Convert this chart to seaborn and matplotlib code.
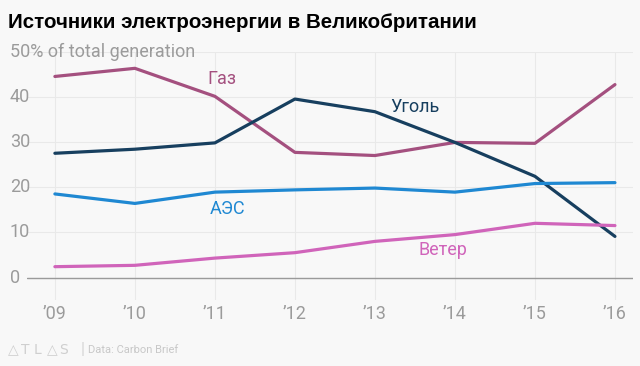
import pandas as pd
import seaborn as sns
import matplotlib.pyplot as plt

# Доли источников в выработке электроэнергии, %
years = [2009, 2010, 2011, 2012, 2013, 2014, 2015, 2016]
gas = [44.5, 46.3, 40.1, 27.7, 27.0, 29.9, 29.7, 42.7]
coal = [27.5, 28.4, 29.8, 39.5, 36.7, 29.9, 22.4, 9.1]
nuclear = [18.5, 16.4, 18.9, 19.4, 19.8, 18.9, 20.8, 21.0]
wind = [2.4, 2.7, 4.3, 5.5, 8.0, 9.5, 12.0, 11.5]

sources = ['Газ', 'Уголь', 'АЭС', 'Ветер']
colors = ['#a4507f', '#173f5f', '#1f88d2', '#d064ba']

df = pd.DataFrame({'year': years * 4,
                   'share': gas + coal + nuclear + wind,
                   'source': [s for s in sources for _ in years]})

sns.set_style('white')
plt.rcParams['font.family'] = ['Roboto', 'DejaVu Sans']
bg = '#f8f8f8'

fig = plt.figure(figsize=(6.4, 3.66), dpi=100, facecolor=bg)
ax = fig.add_axes([0.042, 0.18, 0.947, 0.679], facecolor=bg)

sns.lineplot(data=df, x='year', y='share', hue='source', palette=colors,
             hue_order=sources, linewidth=2.3, legend=False, ax=ax)

ax.set_xlim(2008.65, 2016.225)
ax.set_ylim(-5, 50)
ax.set_xticks(years)
ax.set_yticks([0, 10, 20, 30, 40, 50])
ax.grid(True, color='#e9e9e9', linewidth=0.8)
ax.set_axisbelow(True)
ax.axhline(0, color='#9a9a9a', linewidth=1, zorder=1)
for s in ax.spines.values():
    s.set_visible(False)
ax.tick_params(length=0, labelleft=False, labelbottom=False)
ax.set_xlabel('')
ax.set_ylabel('')

# подписи осей
ytr = ax.get_yaxis_transform()
for v in [0, 10, 20, 30, 40]:
    ax.text(-0.028, v, str(v), transform=ytr, ha='left', va='center',
            fontsize=13, color='#9b9b9b')
ax.text(-0.028, 50, '50% of total generation', transform=ytr, ha='left',
        va='center', fontsize=13, color='#9b9b9b')
xtr = ax.get_xaxis_transform()
for y in years:
    ax.text(y, -0.055, "\u2019" + str(y)[2:], transform=xtr, ha='center',
            va='center', fontsize=13, color='#9b9b9b')

# подписи линий
ax.text(2010.9, 44.0, 'Газ', color=colors[0], fontsize=13, va='center')
ax.text(2013.19, 37.8, 'Уголь', color=colors[1], fontsize=13, va='center')
ax.text(2010.94, 15.2, 'АЭС', color=colors[2], fontsize=13, va='center')
ax.text(2013.54, 6.2, 'Ветер', color=colors[3], fontsize=13, va='center')

fig.text(0.012, 0.938, 'Источники электроэнергии в Великобритании',
         fontsize=14.8, fontweight='bold', color='black',
         family=['Liberation Sans', 'DejaVu Sans'], va='center')

for i, ch in enumerate(['\u25b3', 'T', 'L', '\u25b3', 'S']):
    fig.text(0.013 + i * 0.02, 0.044, ch, fontsize=10, color='#cfcfcf',
             va='center', family=['DejaVu Sans'])
fig.text(0.126, 0.044, '|', fontsize=12, color='#d5d5d5', va='center')
fig.text(0.138, 0.044, 'Data: Carbon Brief', fontsize=8, color='#c8c8c8', va='center')

fig.savefig('out.png', dpi=100, facecolor=bg)
